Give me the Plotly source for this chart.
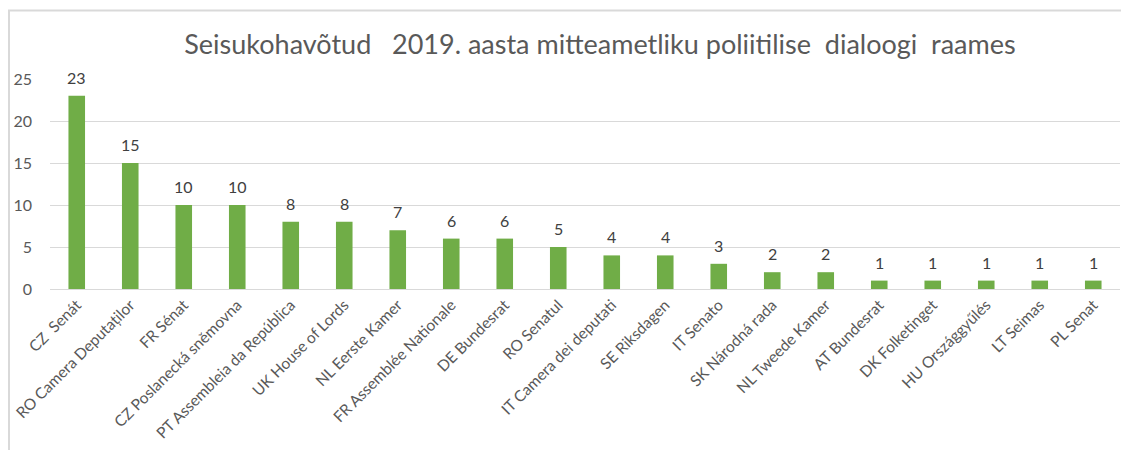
import plotly.graph_objects as go

categories = ["CZ  Senát", "RO Camera Deputaților", "FR Sénat", "CZ Poslanecká sněmovna",
              "PT Assembleia da República", "UK House of Lords", "NL Eerste Kamer",
              "FR Assemblée Nationale", "DE Bundesrat", "RO Senatul", "IT Camera dei deputati",
              "SE Riksdagen", "IT Senato", "SK Národná rada", "NL Tweede Kamer",
              "AT Bundesrat", "DK Folketinget", "HU Országgyűlés", "LT Seimas", "PL Senat"]
values = [23, 15, 10, 10, 8, 8, 7, 6, 6, 5, 4, 4, 3, 2, 2, 1, 1, 1, 1, 1]
y_ticks = [0, 5, 10, 15, 20, 25]

FONT = "Lato"
# page is offset by an 8px body margin
OFF = 8
W, H = 1121, 442
L, R, T, B = 50 - OFF, 9, 79 - OFF, 161
PW, PH = W - L - R, H - T - B

fig = go.Figure(go.Bar(
    x=categories, y=values,
    marker=dict(color="#70AD47", line=dict(width=0)),
    hoverinfo="x+y",
))

for c, v in zip(categories, values):
    fig.add_annotation(x=c, y=v, text=str(v), showarrow=False, xref="x", yref="y",
                       yanchor="bottom", yshift=7,
                       font=dict(family=FONT, size=16, color="#404040"))

def px_x(x):
    return (x - OFF - L) / PW

def px_y(y):
    return 1 - (y - OFF - T) / PH

fig.update_layout(
    width=W, height=H,
    margin=dict(l=L, r=R, t=T, b=B, autoexpand=False),
    paper_bgcolor="white", plot_bgcolor="white",
    bargap=0.69,
    showlegend=False,
    title=dict(text="Seisukohavõtud   2019. aasta mitteametliku poliitilise  dialoogi  raames",
               x=(600 - OFF) / W, xanchor="center", y=1 - (45 - OFF) / H, yanchor="middle",
               font=dict(family=FONT, size=27, color="#595959")),
    xaxis=dict(tickangle=-45, tickfont=dict(family=FONT, size=15.5, color="#595959"),
               showgrid=False, showline=True, linecolor="#D9D9D9", linewidth=1,
               ticks="", automargin=False),
    yaxis=dict(range=[0, 25], tickvals=y_ticks, showgrid=True, gridcolor="#D9D9D9",
               gridwidth=1, zeroline=False, showline=False, ticks="",
               tickfont=dict(family=FONT, size=16, color="#595959"),
               ticklabelstandoff=17, automargin=False),
    shapes=[
        dict(type="line", xref="paper", yref="paper",
             x0=px_x(8), x1=px_x(1140), y0=px_y(10.5), y1=px_y(10.5),
             line=dict(color="#D9D9D9", width=2)),
        dict(type="line", xref="paper", yref="paper",
             x0=px_x(9), x1=px_x(9), y0=px_y(460), y1=px_y(10.5),
             line=dict(color="#D9D9D9", width=2)),
    ],
)

fig.write_html("out.html")
